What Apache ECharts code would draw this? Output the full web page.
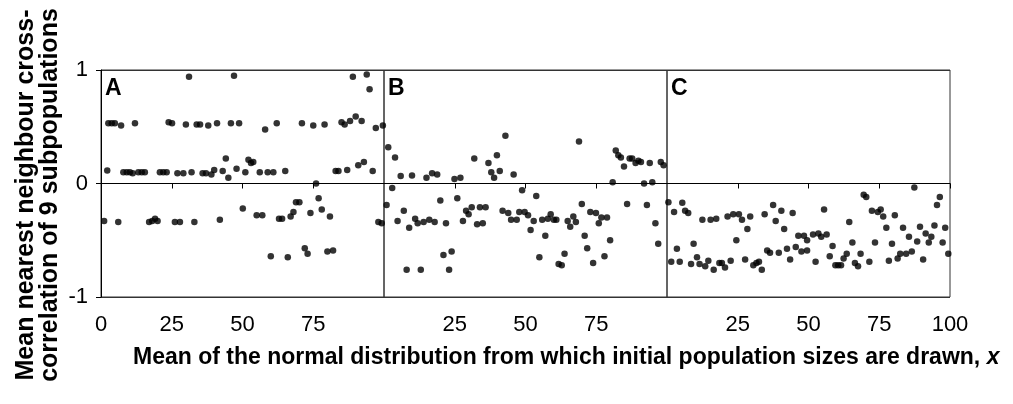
<!DOCTYPE html>
<html>
<head>
<meta charset="utf-8">
<script src="https://cdn.jsdelivr.net/npm/echarts@6/dist/echarts.min.js"></script>
<style>
  html, body { margin: 0; padding: 0; background: #fff; }
  #chart { width: 1013px; height: 404px; }
</style>
</head>
<body>
<div id="chart"></div>
<script>
// Mean nearest neighbour cross-correlation vs. mean initial population size (x, y) per panel
const panelA = [
  [31.1,0.94],[47,0.95],[89,0.94],[93.9,0.96],[94.9,0.83],
  [2.6,0.53],[3.8,0.53],[4.9,0.53],[7.1,0.51],[12,0.53],[23.9,0.54],[25.1,0.53],[30,0.52],[33.8,0.52],[35,0.52],
  [37.9,0.51],[41,0.53],[45.9,0.53],[48.8,0.53],[58,0.475],[62.1,0.53],[71,0.53],[75,0.51],[79,0.52],[85,0.54],
  [86.1,0.52],[88,0.55],[90,0.59],[92.1,0.55],[97.1,0.49],[99.6,0.51],
  [2.2,0.115],[7.9,0.10],[9.1,0.10],[10.2,0.10],[11.2,0.09],[13.2,0.10],[14.4,0.10],[15.5,0.10],[20.8,0.10],
  [22,0.10],[23.2,0.10],[27,0.09],[29.1,0.09],[32,0.10],[35.9,0.09],[37.1,0.09],[39,0.08],[40,0.12],[43,0.11],
  [44.1,0.22],[45,0.05],[47.9,0.13],[51,0.10],[52.1,0.21],[53,0.18],[53.8,0.19],[56.1,0.10],[58.9,0.10],[60.9,0.10],
  [65.1,0.11],[82.9,0.11],[83.9,0.11],[87,0.12],[90.9,0.16],[92.9,0.19],[96,0.11],
  [1.1,-0.33],[6.1,-0.34],[17,-0.34],[18.1,-0.33],[19.1,-0.31],[20,-0.33],[26.1,-0.34],[27.9,-0.34],[33,-0.34],
  [42,-0.32],[50.1,-0.22],[55,-0.28],[57,-0.28],[62.9,-0.31],[64,-0.31],[67,-0.29],[68,-0.25],[68.9,-0.165],
  [70.1,-0.165],[74,-0.26],[76,0.0],[76.9,-0.13],[78,-0.23],[80.9,-0.29],[98,-0.34],[99.2,-0.35],
  [60,-0.64],[66,-0.65],[72,-0.57],[73,-0.62],[80,-0.60],[82,-0.59]
];
const panelB = [
  [1.5,0.32],[3.9,0.23],[5.9,0.065],[9.9,0.07],[15,0.05],[17,0.09],[18.8,0.08],[24.9,0.04],[27,0.05],[31.9,0.22],
  [36.9,0.18],[37.9,0.10],[38.9,0.05],[39.9,0.25],[40.9,0.11],[42.9,0.42],[45.8,0.08],[68.9,0.37],[80.8,0.01],
  [81.9,0.29],[82.8,0.25],[83.7,0.23],[84.8,0.15],[86.8,0.22],[87.7,0.22],[88.9,0.18],[89.9,0.20],[90.8,0.19],
  [91.9,0.0],[93.9,0.18],[94.8,0.01],[97.8,0.19],[98.8,0.16],
  [0.9,-0.19],[2.9,-0.04],[4.8,-0.33],[7,-0.24],[8.9,-0.39],[11,-0.31],[11.9,-0.35],[14,-0.34],[16,-0.32],
  [17.9,-0.34],[19.9,-0.15],[21.9,-0.35],[25.9,-0.13],[27.9,-0.33],[29,-0.24],[29.9,-0.27],[31,-0.21],[32.9,-0.36],
  [33.9,-0.21],[34.9,-0.35],[35.9,-0.21],[41.9,-0.24],[43.9,-0.26],[44.9,-0.32],[46.9,-0.32],[47.8,-0.25],
  [48.8,-0.06],[49.7,-0.25],[50.9,-0.28],[51.8,-0.41],[52.9,-0.33],[53.8,-0.11],[55.9,-0.32],[57,-0.46],
  [57.9,-0.31],[58.9,-0.27],[60,-0.32],[60.9,-0.32],[64.9,-0.33],[65.8,-0.38],[66.9,-0.29],[67.8,-0.34],
  [69.9,-0.18],[70.9,-0.46],[72.9,-0.25],[74.9,-0.26],[75.9,-0.35],[76.8,-0.30],[78.8,-0.30],[79.9,-0.50],
  [85.9,-0.18],[92.9,-0.19],[95.9,-0.35],[96.9,-0.53],
  [8,-0.76],[13,-0.76],[21,-0.63],[23,-0.76],[23.9,-0.60],[54.9,-0.65],[61.7,-0.71],[62.8,-0.72],[63.8,-0.62],
  [71.8,-0.57],[73.9,-0.70],[77.9,-0.64]
];
const panelC = [
  [0.5,-0.165],[2.5,-0.25],[5.4,-0.17],[6.4,-0.24],[7.5,-0.26],[12.5,-0.32],[15.4,-0.32],[17.4,-0.31],[21.4,-0.29],
  [23.4,-0.27],[25.4,-0.27],[26.5,-0.32],[29.4,-0.29],[34.5,-0.27],[37.5,-0.19],[38.4,-0.33],[40.4,-0.24],
  [44.4,-0.26],[24.5,-0.50],[28.4,-0.40],[9.4,-0.53],[41.4,-0.40],[46.4,-0.46],[48.4,-0.46],[49.5,-0.50],
  [1.5,-0.69],[4.5,-0.69],[3.5,-0.575],[8.5,-0.71],[10.6,-0.65],[11.5,-0.71],[13.5,-0.73],[14.6,-0.68],[16.5,-0.76],
  [18.5,-0.70],[19.4,-0.70],[20.5,-0.74],[22.5,-0.68],[27.6,-0.67],[30.5,-0.72],[31.6,-0.70],[32.5,-0.69],
  [33.5,-0.76],[35.4,-0.59],[36.4,-0.61],[39.5,-0.61],[42.4,-0.575],[43.5,-0.67],[45.5,-0.56],[47.5,-0.60],
  [49.5,-0.59],
  [51.6,-0.45],[52.5,-0.69],[53.5,-0.44],[54.5,-0.47],[55.5,-0.23],[56.4,-0.45],[57.5,-0.64],[58.5,-0.55],
  [59.5,-0.72],[60.5,-0.72],[61.5,-0.72],[62.4,-0.66],[63.5,-0.62],[64.4,-0.34],[65.5,-0.52],[66.4,-0.70],
  [67.5,-0.73],[68.4,-0.62],[69.5,-0.10],[70.4,-0.12],[71.5,-0.69],[72.4,-0.24],[73.5,-0.52],[74.5,-0.25],
  [75.5,-0.23],[76.4,-0.29],[77.5,-0.39],[78.4,-0.68],[79.5,-0.53],[80.5,-0.28],[81.5,-0.66],[82.4,-0.62],
  [83.4,-0.39],[84.5,-0.62],[85.5,-0.47],[86.5,-0.60],[87.4,-0.035],[88.4,-0.51],[89.4,-0.38],[90.5,-0.67],
  [91.4,-0.44],[92.5,-0.52],[93.4,-0.47],[94.5,-0.37],[95.4,-0.19],[96.4,-0.12],[97.4,-0.52],[98.3,-0.39],
  [99.4,-0.62]
];
const panelNames = ['A', 'B', 'C'];
const panels = [panelA, panelB, panelC];
const yTicks = [-1, 0, 1];

const FONT = '"Liberation Sans", Arial, sans-serif';
const chart = echarts.init(document.getElementById('chart'), null, { renderer: 'canvas' });

const gridLeft = [101, 384, 667];
const gridW = 283;

const grids = gridLeft.map(l => ({
  left: l, width: gridW, top: 70, height: 227,
  show: true, borderColor: '#333', borderWidth: 1, backgroundColor: 'transparent'
}));

const xAxes = panels.map((_, i) => ({
  gridIndex: i, type: 'value', min: 0, max: 100, interval: 25,
  axisLine: { show: true, lineStyle: { color: '#000', width: 1 } },
  axisTick: { show: true, inside: false, length: 5, lineStyle: { color: '#000' } },
  axisLabel: {
    show: true, margin: 17, color: '#000', fontFamily: FONT, fontSize: 22,
    showMinLabel: i === 0, showMaxLabel: i === 2
  },
  splitLine: { show: false }
}));

const yAxes = panels.map((_, i) => ({
  gridIndex: i, type: 'value', min: yTicks[0], max: yTicks[yTicks.length - 1], interval: 1,
  axisLine: { show: i === 0, lineStyle: { color: '#000', width: 1 } },
  axisTick: { show: i === 0, inside: false, length: 5, lineStyle: { color: '#000' } },
  axisLabel: { show: i === 0, margin: 13, color: '#000', fontFamily: FONT, fontSize: 22 },
  splitLine: { show: true, lineStyle: { color: '#333', width: 1 } }
}));

const series = panels.map((d, i) => ({
  type: 'scatter', xAxisIndex: i, yAxisIndex: i, data: d,
  symbol: 'circle', symbolSize: 6.5,
  itemStyle: { color: '#000' }, silent: true, animation: false
}));

const graphic = [
  ...panelNames.map((n, i) => ({
    type: 'text', left: gridLeft[i] + 4, top: 77,
    style: { text: n, font: 'bold 23px ' + FONT, fill: '#000' }
  })),
  {
    type: 'text', x: 38, y: 195, rotation: Math.PI / 2,
    style: {
      text: 'Mean nearest neighbour cross-\ncorrelation of 9 subpopulations',
      font: 'bold 25px ' + FONT, fill: '#000', align: 'center', verticalAlign: 'middle', lineHeight: 24
    }
  },
  {
    type: 'text', x: 133, y: 358,
    style: {
      text: '{b|Mean of the normal distribution from which initial population sizes are drawn, }{i|x}',
      align: 'left', verticalAlign: 'middle',
      rich: {
        b: { font: 'bold 23px ' + FONT, fill: '#000', color: '#000' },
        i: { font: 'italic bold 23px ' + FONT, fill: '#000', color: '#000' }
      }
    }
  }
];

chart.setOption({
  animation: false,
  backgroundColor: '#fff',
  grid: grids,
  xAxis: xAxes,
  yAxis: yAxes,
  series: series,
  graphic: graphic
});
</script>
</body>
</html>
